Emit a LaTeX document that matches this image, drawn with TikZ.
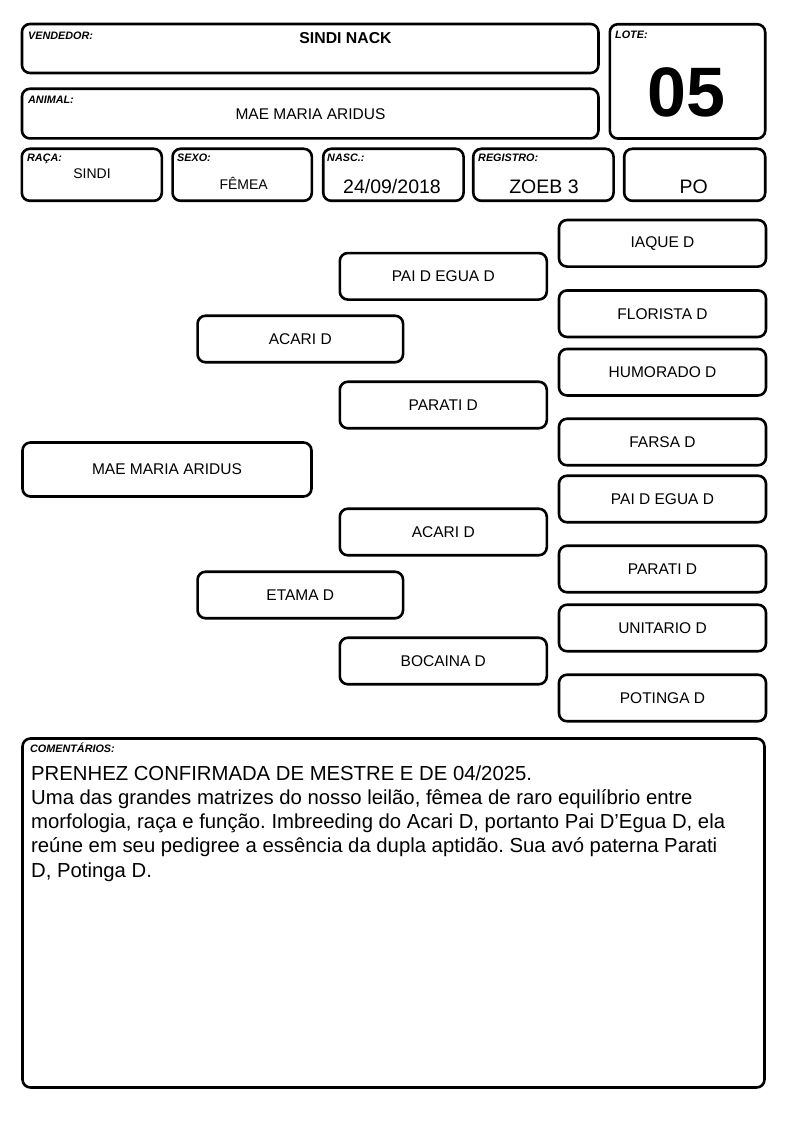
\documentclass[tikz,border=0pt]{standalone}
\usepackage{fontspec}
\setmainfont{Liberation Sans}
\usetikzlibrary{positioning}
\frenchspacing
\tikzset{
  box/.style={draw, line width=2.6pt, rounded corners=8pt, inner sep=0pt},
  lbl/.style={anchor=base west, inner sep=0pt, font=\fontsize{10.8}{12}\selectfont\bfseries\itshape},
  val/.style={anchor=base, inner sep=0pt},
  ped/.style={box, minimum width=207pt, minimum height=46.5pt, font=\fontsize{15.5}{18}\selectfont},
}
\begin{document}
\begin{tikzpicture}[x=1pt,y=-1pt]
  \fill[white] (0,0) rectangle (794,1123);
  \useasboundingbox (0,0) rectangle (794,1123);
  % header
  \node[box, minimum width=576.5pt, minimum height=49pt] (vendedor) at (310.2,48.5) {};
  \node[box, minimum width=576.5pt, minimum height=49.7pt] (animal) at (310.2,113.6) {};
  \node[box, minimum width=155.4pt, minimum height=114.3pt] (lote) at (687.5,81.4) {};
  \node[box, minimum width=140pt, minimum height=52pt] (raca) at (91.8,174.8) {};
  \node[box, minimum width=139.3pt, minimum height=52pt] (sexo) at (242.2,174.8) {};
  \node[box, minimum width=140.3pt, minimum height=52pt] (nasc) at (393.4,174.8) {};
  \node[box, minimum width=140.3pt, minimum height=52pt] (registro) at (543.4,174.8) {};
  \node[box, minimum width=141pt, minimum height=52pt] (po) at (694.7,174.8) {};
  \node[lbl] (vendedorlbl) at (28,39.5) {VENDEDOR:};
  \node[lbl] (animallbl) at (28,103.5) {ANIMAL:};
  \node[lbl] (lotelbl) at (615,39) {LOTE:};
  \node[lbl] (racalbl) at (27,162) {RAÇA:};
  \node[lbl] (sexolbl) at (177,162) {SEXO:};
  \node[lbl] (nasclbl) at (327,162) {NASC.:};
  \node[lbl] (registrolbl) at (478,162) {REGISTRO:};
  \node[val, font=\fontsize{15.8}{18}\selectfont\bfseries] (vendedorval) at (345.5,43.3) {SINDI NACK};
  \node[val, font=\fontsize{15.5}{18}\selectfont] (animalval) at (310.5,119.3) {MAE MARIA ARIDUS};
  \node[val, font=\fontsize{70}{80}\selectfont\bfseries] (loteval) at (686.7,116.7) {05};
  \node[val, font=\fontsize{14}{16}\selectfont] (racaval) at (92,178.3) {SINDI};
  \node[val, font=\fontsize{14}{16}\selectfont] (sexoval) at (243.7,189.3) {FÊMEA};
  \node[val, font=\fontsize{19.5}{22}\selectfont] (nascval) at (392,193.3) {24/09/2018};
  \node[val, font=\fontsize{19.5}{22}\selectfont] (registroval) at (544,193.3) {ZOEB 3};
  \node[val, font=\fontsize{19.5}{22}\selectfont] (poval) at (693.7,193.3) {PO};
  % pedigree
  \node[ped, minimum width=289pt, minimum height=54pt] (a) at (167,469.5) {MAE MARIA ARIDUS};
  \node[ped, minimum width=205.5pt] (p) at (300.3,339) {ACARI D};
  \node[ped, minimum width=205.5pt] (m) at (300.3,595) {ETAMA D};
  \node[ped] (pp) at (443.3,276.3) {PAI D EGUA D};
  \node[ped] (pm) at (443.3,405) {PARATI D};
  \node[ped] (mp) at (443.3,532) {ACARI D};
  \node[ped] (mm) at (443.3,661) {BOCAINA D};
  \node[ped] (ppp) at (662.5,243.3) {IAQUE D};
  \node[ped] (ppm) at (662.5,313.7) {FLORISTA D};
  \node[ped] (pmp) at (662.5,372.2) {HUMORADO D};
  \node[ped] (pmm) at (662.5,442) {FARSA D};
  \node[ped] (mpp) at (662.5,499) {PAI D EGUA D};
  \node[ped] (mpm) at (662.5,569) {PARATI D};
  \node[ped] (mmp) at (662.5,628) {UNITARIO D};
  \node[ped] (mmm) at (662.5,698) {POTINGA D};
  % comments
  \node[box, minimum width=742pt, minimum height=349pt] (comentarios) at (393.5,913) {};
  \node[lbl] (comentarioslbl) at (30,752.5) {COMENTÁRIOS:};
  \foreach \txt [count=\i from 0] in {
      {PRENHEZ CONFIRMADA DE MESTRE E DE 04/2025.},
      {Uma das grandes matrizes do nosso leilão, fêmea de raro equilíbrio entre},
      {morfologia, raça e função. Imbreeding do Acari D, portanto Pai D’Egua D, ela},
      {reúne em seu pedigree a essência da dupla aptidão. Sua avó paterna Parati},
      {D, Potinga D.}}
    \node[anchor=base west, inner sep=0pt, font=\fontsize{20.3}{24}\selectfont] (linha\i) at (31,780+24.3*\i) {\txt};
\end{tikzpicture}
\end{document}
